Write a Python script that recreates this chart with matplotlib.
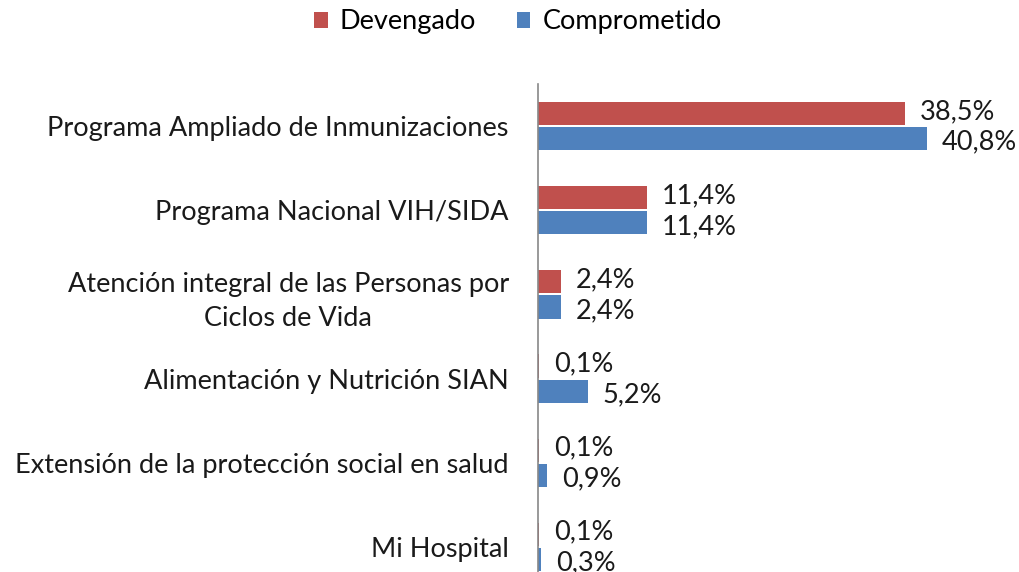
import matplotlib
matplotlib.use("Agg")
import matplotlib.pyplot as plt

plt.rcParams['font.family'] = ['Lato', 'DejaVu Sans']

categorias = [
    "Programa Ampliado de Inmunizaciones",
    "Programa Nacional VIH/SIDA",
    "Atención integral de las Personas por\nCiclos de Vida",
    "Alimentación y Nutrición SIAN",
    "Extensión de la protección social en salud",
    "Mi Hospital",
]
devengado = [38.5, 11.4, 2.4, 0.1, 0.1, 0.1]
comprometido = [40.8, 11.4, 2.4, 5.2, 0.9, 0.3]

rojo = "#C0504D"
azul = "#4F81BD"
fs = 19.5

fig = plt.figure(figsize=(10.2, 5.72), dpi=100)
# plot area is cut off at the bottom in the original
ax = fig.add_axes([538 / 1020, -17 / 572, 476.5 / 1020, 505 / 572])

n = len(categorias)
pos = list(range(n))
h = 0.275
sep = 0.025
yd = [p - (h + sep) / 2 for p in pos]
yc = [p + (h + sep) / 2 for p in pos]

ax.barh(yd, devengado, height=h, color=rojo, label="Devengado")
ax.barh(yc, comprometido, height=h, color=azul, label="Comprometido")

for y, v in zip(yd, devengado):
    ax.annotate(f"{v:.1f}%".replace(".", ","), (v, y), xytext=(11, 1.5),
                textcoords="offset points", va="center", ha="left",
                fontsize=fs, color="#1a1a1a")
for y, v in zip(yc, comprometido):
    ax.annotate(f"{v:.1f}%".replace(".", ","), (v, y), xytext=(11, -2.5),
                textcoords="offset points", va="center", ha="left",
                fontsize=fs, color="#1a1a1a")

ax.set_xlim(0, 50)
ax.set_ylim(n - 0.5, -0.5)
ax.set_yticks(pos)
ax.set_yticklabels(categorias, fontsize=fs, color="#1a1a1a", ha="right",
                   multialignment="center", linespacing=1.45)
ax.tick_params(axis="y", length=0, pad=21)
ax.set_xticks([])
for s in ["top", "right", "bottom"]:
    ax.spines[s].set_visible(False)
ax.spines["left"].set_color("#888888")
ax.spines["left"].set_linewidth(1.2)

handles, labels = ax.get_legend_handles_labels()
fig.legend(handles, labels, loc="center", bbox_to_anchor=(518 / 1020, 1 - 22 / 572),
           ncol=2, frameon=False, fontsize=fs, handlelength=0.5, handleheight=0.5,
           handletextpad=0.45, columnspacing=1.5)

fig.savefig("out.png", dpi=100)
